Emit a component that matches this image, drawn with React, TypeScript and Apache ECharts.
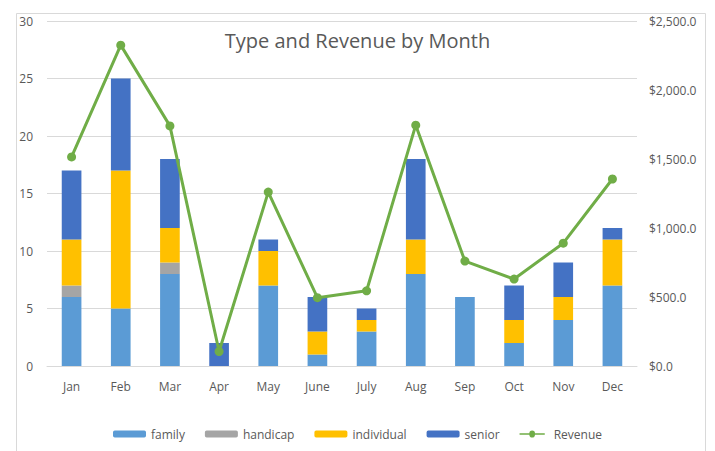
import React, { useEffect, useRef } from "react";
import * as echarts from "echarts";

const months = ["Jan", "Feb", "Mar", "Apr", "May", "June", "July", "Aug", "Sep", "Oct", "Nov", "Dec"];
const family = [6, 5, 8, 0, 7, 1, 3, 8, 6, 2, 4, 7];
const handicap = [1, 0, 1, 0, 0, 0, 0, 0, 0, 0, 0, 0];
const individual = [4, 12, 3, 0, 3, 2, 1, 3, 0, 2, 2, 4];
const senior = [6, 8, 6, 2, 1, 3, 1, 7, 0, 3, 3, 1];
const revenue = [1515, 2325, 1740, 105, 1260, 495, 545, 1745, 760, 630, 890, 1355];

const FONT = "'Open Sans', 'Noto Sans', sans-serif";
const GRAY = "#595959";

export default function App() {
  const ref = useRef<HTMLDivElement>(null);
  useEffect(() => {
    const chart = echarts.init(ref.current!, null, { renderer: "svg" });
    const barSeries = (name: string, data: number[], color: string) => ({
      name,
      type: "bar",
      stack: "t",
      data,
      barWidth: "40%",
      itemStyle: { color },
      yAxisIndex: 0,
    });
    chart.setOption({
      animation: false,
      backgroundColor: "#fff",
      textStyle: { fontFamily: FONT },
      title: {
        text: "Type and Revenue by Month",
        left: "center",
        top: 25,
        textStyle: { fontFamily: FONT, fontSize: 20, fontWeight: "normal", color: GRAY },
      },
      graphic: [
        {
          type: "rect",
          shape: { x: 16.5, y: 13.5, width: 689, height: 460 },
          style: { fill: "none", stroke: "#D9D9D9", lineWidth: 1 },
          silent: true,
        },
      ],
      grid: { left: 47, right: 78, top: 21, bottom: 85 },
      legend: {
        bottom: 6,
        left: "center",
        itemWidth: 33,
        itemHeight: 7,
        itemGap: 20,
        textStyle: { fontFamily: FONT, fontSize: 12, color: GRAY },
        data: [
          { name: "family" },
          { name: "handicap" },
          { name: "individual" },
          { name: "senior" },
          { name: "Revenue", icon: "path://M0,3 L14,3 A4,4 0 1,1 22,3 L36,3 L36,5 L22,5 A4,4 0 1,1 14,5 L0,5 Z" },
        ],
      },
      xAxis: {
        type: "category",
        data: months,
        axisLine: { lineStyle: { color: "#D9D9D9" } },
        axisTick: { show: false },
        axisLabel: { color: GRAY, fontSize: 12, margin: 14 },
      },
      yAxis: [
        {
          type: "value",
          min: 0,
          max: 30,
          interval: 5,
          axisLine: { show: false },
          axisTick: { show: false },
          axisLabel: { color: GRAY, fontSize: 12, margin: 14 },
          splitLine: { lineStyle: { color: "#D9D9D9" } },
        },
        {
          type: "value",
          min: 0,
          max: 2500,
          interval: 500,
          axisLine: { show: false },
          axisTick: { show: false },
          splitLine: { show: false },
          axisLabel: {
            color: GRAY,
            fontSize: 12,
            margin: 12,
            formatter: (v: number) =>
              "$" + v.toLocaleString("en-US", { minimumFractionDigits: 1, maximumFractionDigits: 1 }),
          },
        },
      ],
      series: [
        barSeries("family", family, "#5B9BD5"),
        barSeries("handicap", handicap, "#A5A5A5"),
        barSeries("individual", individual, "#FFC000"),
        barSeries("senior", senior, "#4472C4"),
        {
          name: "Revenue",
          type: "line",
          yAxisIndex: 1,
          data: revenue,
          symbol: "circle",
          symbolSize: 9,
          lineStyle: { color: "#70AD47", width: 3 },
          itemStyle: { color: "#70AD47" },
          z: 5,
        },
      ],
    });
    return () => chart.dispose();
  }, []);
  return <div ref={ref} style={{ position: "fixed", left: 0, top: 0, width: 715, height: 451 }} />;
}
